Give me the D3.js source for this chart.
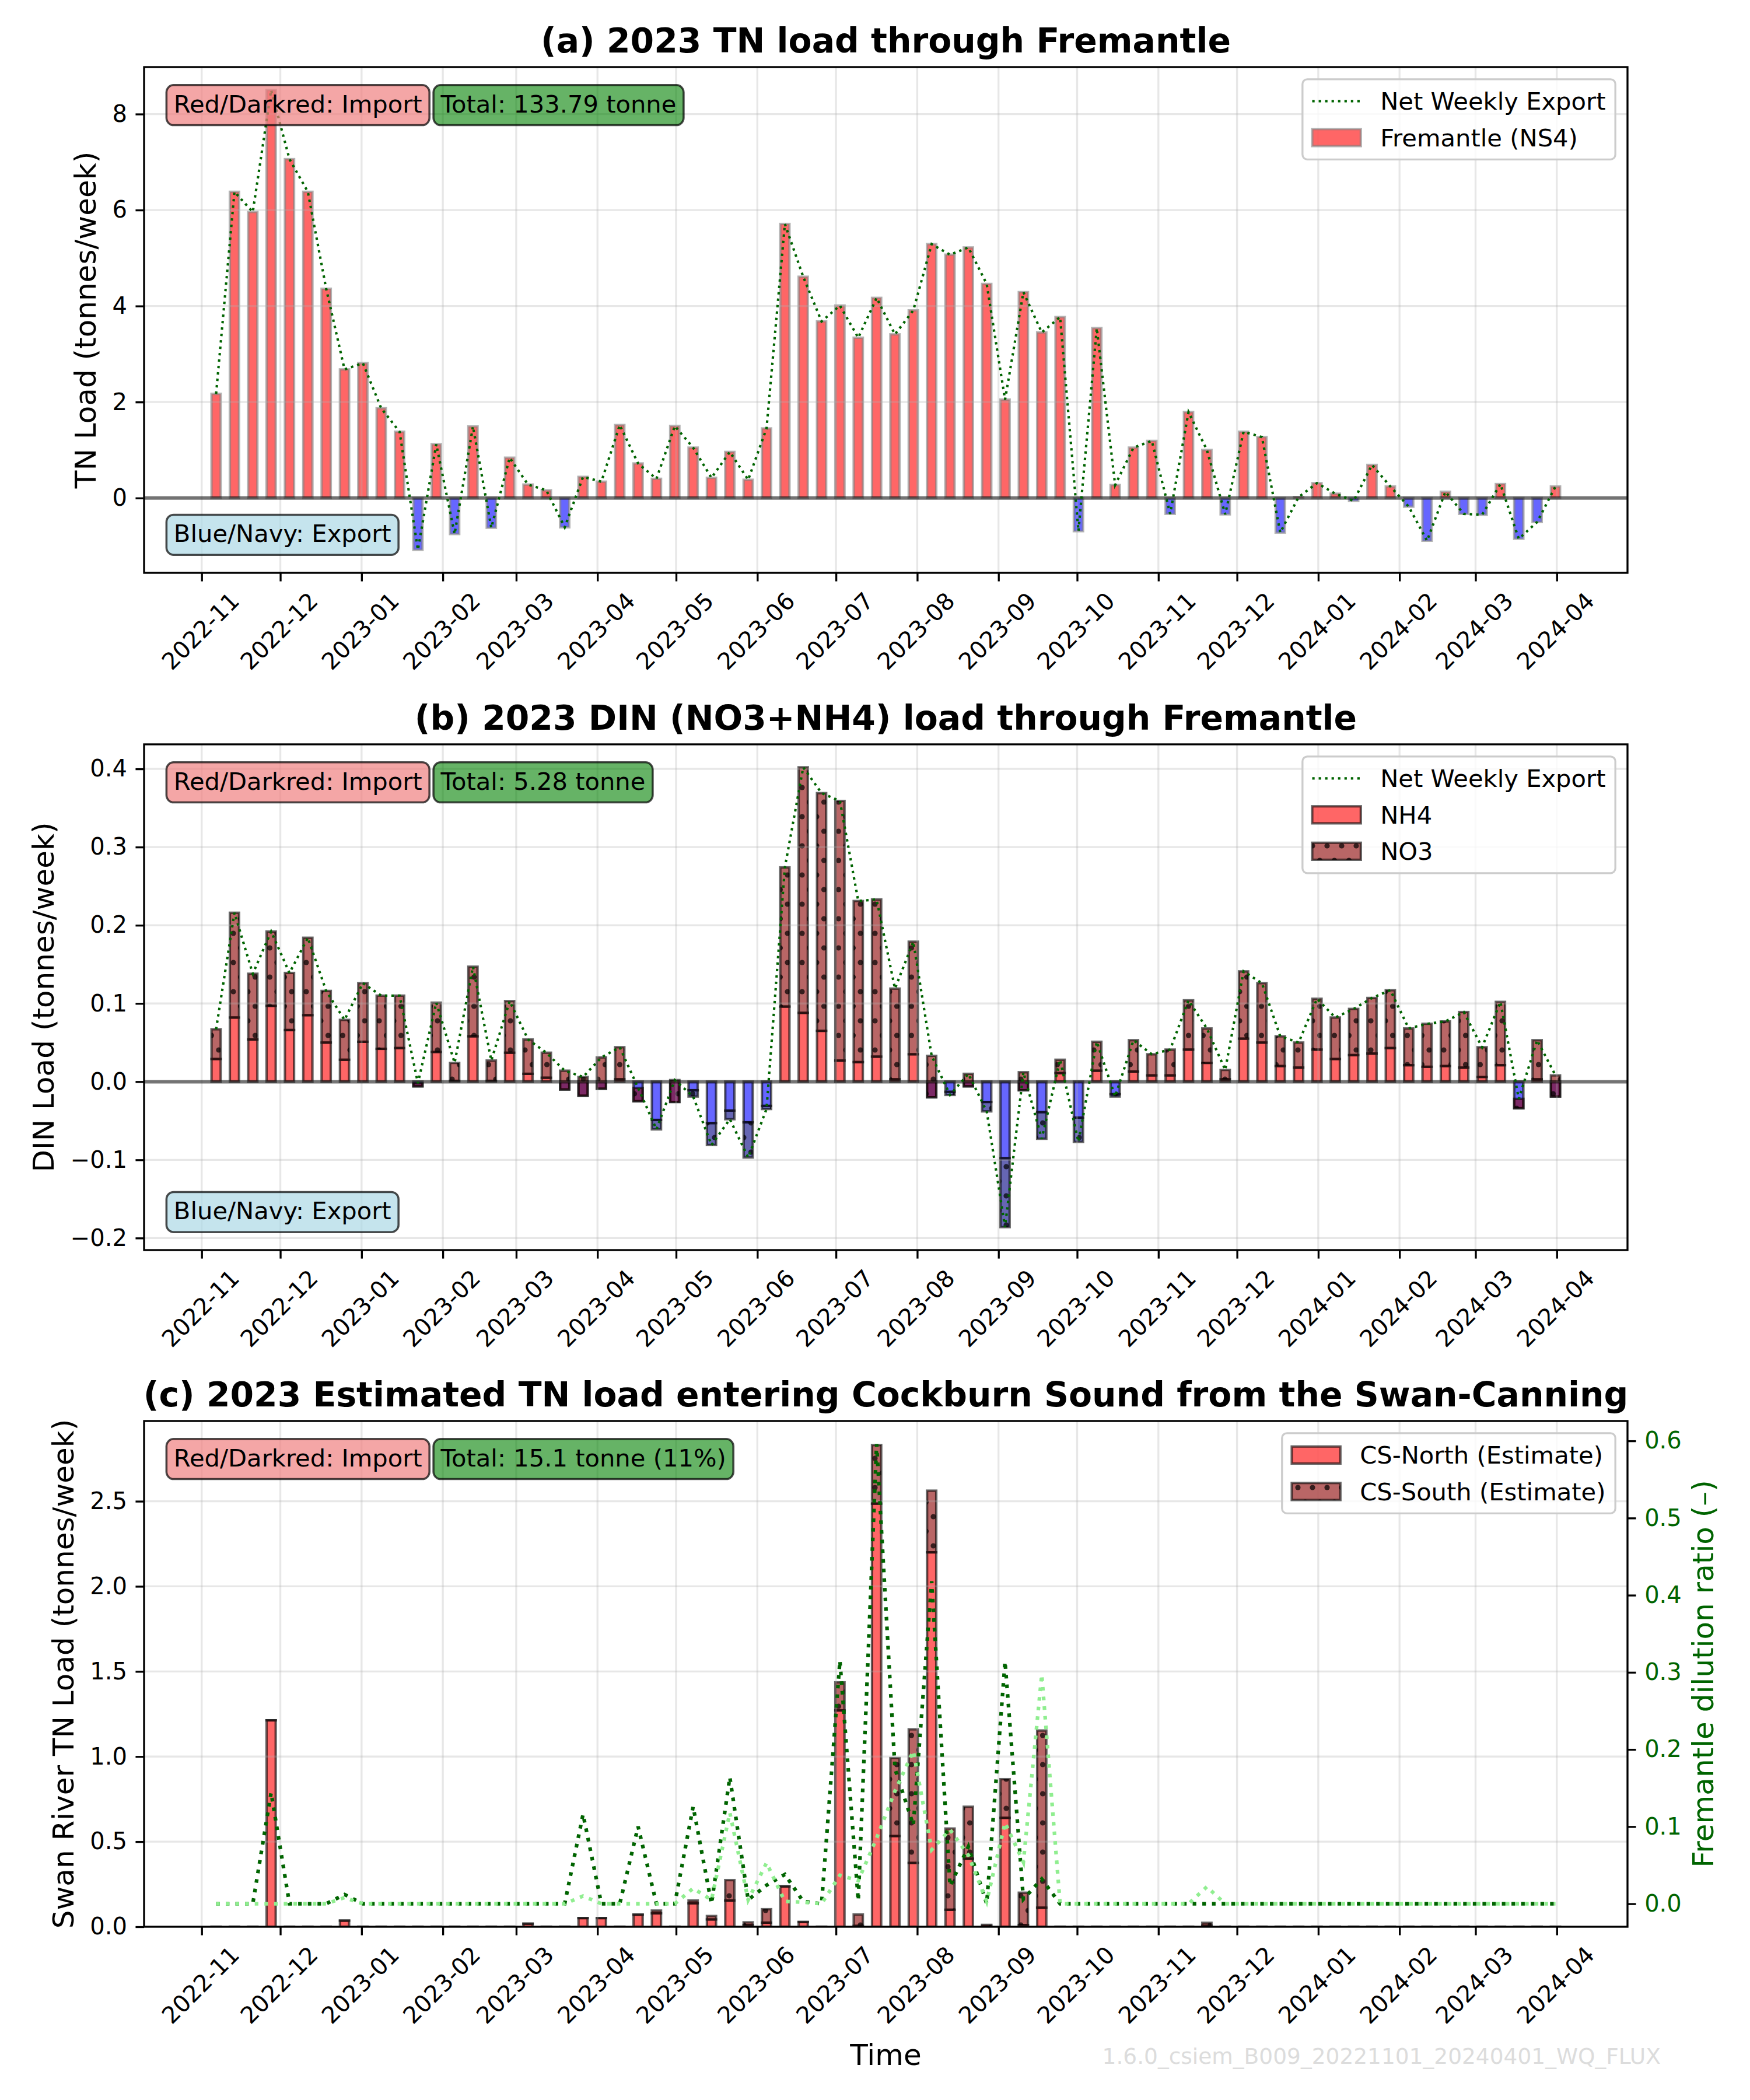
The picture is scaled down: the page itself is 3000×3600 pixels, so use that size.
<!DOCTYPE html>
<html>
<head>
<meta charset="utf-8">
<script src="https://cdn.jsdelivr.net/npm/d3@7"></script>
<style>
  body { margin: 0; background: #fff; }
  svg { display: block; }
  text { font-family: "DejaVu Sans", sans-serif; }
</style>
</head>
<body>
<div id="chart"></div>
<script>
// weekly values, first week centred on 2022-11-06
var firstWeek = new Date(Date.UTC(2022, 10, 6, 12));

// (a) TN net weekly load through Fremantle (tonnes/week)
var tnNet = [2.17, 6.38, 5.96, 8.50, 7.06, 6.38, 4.36, 2.68, 2.81, 1.87,
  1.38, -1.08, 1.12, -0.75, 1.49, -0.62, 0.84, 0.28, 0.16, -0.61,
  0.44, 0.34, 1.52, 0.72, 0.40, 1.50, 1.05, 0.42, 0.96, 0.38,
  1.45, 5.71, 4.61, 3.68, 4.01, 3.34, 4.17, 3.41, 3.91, 5.29,
  5.07, 5.22, 4.46, 2.05, 4.29, 3.45, 3.77, -0.69, 3.54, 0.27,
  1.05, 1.19, -0.33, 1.79, 1.00, -0.34, 1.38, 1.27, -0.72, 0.02,
  0.31, 0.09, -0.06, 0.69, 0.24, -0.18, -0.89, 0.13, -0.33, -0.35,
  0.29, -0.85, -0.50, 0.24];

// (b) DIN components (tonnes/week)
var dinNH4 = [0.029, 0.082, 0.054, 0.097, 0.066, 0.085, 0.050, 0.028, 0.051, 0.042,
  0.043, -0.006, 0.038, 0.001, 0.058, 0.001, 0.037, 0.010, 0.005, -0.010,
  -0.018, -0.009, 0.003, -0.025, -0.049, -0.026, -0.011, -0.053, -0.037, -0.052,
  -0.031, 0.096, 0.088, 0.065, 0.027, 0.025, 0.032, 0.003, 0.035, -0.020,
  -0.013, -0.006, -0.026, -0.098, -0.011, -0.039, 0.011, -0.046, 0.014, -0.016,
  0.013, 0.008, 0.008, 0.041, 0.024, 0.003, 0.055, 0.050, 0.020, 0.018,
  0.041, 0.029, 0.034, 0.036, 0.043, 0.021, 0.019, 0.020, 0.018, 0.006,
  0.021, -0.034, 0.003, -0.019];
var dinNO3 = [0.038, 0.134, 0.084, 0.095, 0.073, 0.099, 0.066, 0.051, 0.075, 0.068,
  0.067, 0.004, 0.063, 0.023, 0.089, 0.026, 0.066, 0.044, 0.032, 0.024,
  0.024, 0.040, 0.041, 0.017, -0.012, 0.028, -0.008, -0.028, -0.011, -0.045,
  -0.004, 0.178, 0.314, 0.304, 0.332, 0.206, 0.201, 0.116, 0.144, 0.053,
  -0.004, 0.016, -0.012, -0.088, 0.023, -0.034, 0.017, -0.031, 0.037, -0.003,
  0.040, 0.027, 0.033, 0.063, 0.044, 0.012, 0.086, 0.076, 0.038, 0.032,
  0.065, 0.053, 0.059, 0.071, 0.074, 0.047, 0.055, 0.057, 0.071, 0.038,
  0.081, 0.012, 0.050, 0.027];

// (c) Swan-Canning TN into Cockburn Sound (tonnes/week)
var csNorth = [0, 0, 0, 1.213, 0, 0, 0, 0.036, 0, 0,
  0, 0, 0, 0, 0, 0, 0, 0.018, 0, 0,
  0.051, 0.051, 0, 0.071, 0.079, 0, 0.138, 0.043, 0.154, 0.010,
  0.024, 0.237, 0.028, 0, 1.271, 0.005, 2.486, 0.533, 0.375, 2.200,
  0.100, 0.400, 0.005, 0.640, 0.010, 0.112, 0, 0, 0, 0,
  0, 0, 0, 0, 0.006, 0, 0, 0, 0, 0,
  0, 0, 0, 0, 0, 0, 0, 0, 0, 0,
  0, 0, 0, 0];
var csSouth = [0, 0, 0, 0, 0, 0, 0, 0, 0, 0,
  0, 0, 0, 0, 0, 0, 0, 0, 0, 0,
  0, 0, 0, 0, 0.016, 0, 0.016, 0.020, 0.120, 0.016,
  0.079, 0, 0, 0, 0.165, 0.067, 0.344, 0.458, 0.785, 0.362,
  0.477, 0.305, 0.006, 0.227, 0.190, 1.041, 0, 0, 0, 0,
  0, 0, 0, 0, 0.017, 0, 0, 0, 0, 0,
  0, 0, 0, 0, 0, 0, 0, 0, 0, 0,
  0, 0, 0, 0];

// (c) Fremantle dilution ratios (-)
var ratioNorth = [0, 0, 0, 0.144, 0, 0, 0, 0.012, 0, 0,
  0, 0, 0, 0, 0, 0, 0, 0, 0, 0,
  0.116, 0, 0, 0.100, 0, 0, 0.126, 0, 0.164, 0.005,
  0.024, 0.038, 0.003, 0, 0.315, 0.004, 0.596, 0.175, 0.102, 0.418,
  0.023, 0.074, 0, 0.314, 0.006, 0.032, 0, 0, 0, 0,
  0, 0, 0, 0, 0, 0, 0, 0, 0, 0,
  0, 0, 0, 0, 0, 0, 0, 0, 0, 0,
  0, 0, 0, 0];
var ratioSouth = [0, 0, 0, 0, 0, 0, 0, 0.008, 0, 0,
  0, 0, 0, 0, 0, 0, 0, 0, 0, 0,
  0.010, 0, 0, 0, 0, 0, 0.020, 0.005, 0.118, 0.005,
  0.053, 0.003, 0.002, 0, 0.037, 0.030, 0.085, 0.146, 0.198, 0.070,
  0.096, 0.063, 0.003, 0.105, 0.054, 0.297, 0, 0, 0, 0,
  0, 0, 0, 0, 0.022, 0, 0, 0, 0, 0,
  0, 0, 0, 0, 0, 0, 0, 0, 0, 0,
  0, 0, 0, 0];

var titles = ['(a) 2023 TN load through Fremantle',
  '(b) 2023 DIN (NO3+NH4) load through Fremantle',
  '(c) 2023 Estimated TN load entering Cockburn Sound from the Swan-Canning'];
var yLabels = ['TN Load (tonnes/week)', 'DIN Load (tonnes/week)', 'Swan River TN Load (tonnes/week)'];
var totals = ['Total: 133.79 tonne', 'Total: 5.28 tonne', 'Total: 15.1 tonne (11%)'];
var rightLabel = 'Fremantle dilution ratio (\u2013)';
var footer = '1.6.0_csiem_B009_20221101_20240401_WQ_FLUX';

// ---- layout (figure is 10x12 in at 300 dpi) ----
var W = 3000, H = 3600;
var PT = 300 / 72;
var left = 247, right = 2790, axH = 867;
var tops = [115, 1276, 2436];
var TICK = 3.5 * PT;
var tickFs = 40, labelFs = 50, titleFs = 14 * PT, boxFs = 10 * PT, legendFs = 10 * PT;
var barDays = 3.5, dayMs = 864e5;

var weeks = tnNet.map(function(d, i) { return d3.utcDay.offset(firstWeek, 7 * i); });

var svg = d3.select('#chart').append('svg')
            .attr('width', W)
            .attr('height', H);
svg.append('rect').attr('width', W).attr('height', H).attr('fill', 'white');

var defs = svg.append('defs');
var dots = defs.append('pattern')
               .attr('id', 'dots')
               .attr('patternUnits', 'userSpaceOnUse')
               .attr('width', 25)
               .attr('height', 50);
[[0, 0], [25, 0], [12.5, 25], [0, 50], [25, 50]].forEach(function(c) {
  dots.append('circle').attr('cx', c[0]).attr('cy', c[1]).attr('r', 4.6)
      .attr('fill', 'black').attr('fill-opacity', 0.7);
});

// x scale shared by the three panels, matplotlib-like 5% margins
var half = barDays / 2 * dayMs;
var xExt = [+weeks[0] - half, +weeks[weeks.length - 1] + half];
var xPad = (xExt[1] - xExt[0]) * 0.05;
var x = d3.scaleUtc()
          .domain([new Date(xExt[0] - xPad), new Date(xExt[1] + xPad)])
          .range([left, right]);
var monthTicks = x.ticks(d3.utcMonth.every(1));

function padded(lo, hi) {
  var m = (hi - lo) * 0.05;
  return [lo - m, hi + m];
}

function noNegZero(fmt) {
  return function(d) { return fmt(Math.abs(d) < 1e-12 ? 0 : d); };
}

function makePanel(i, yDomain) {
  var top = tops[i], bottom = top + axH;
  var y = d3.scaleLinear().domain(yDomain).range([bottom, top]);
  defs.append('clipPath').attr('id', 'clip' + i)
      .append('rect').attr('x', left).attr('y', top).attr('width', right - left).attr('height', axH);
  var g = svg.append('g');
  var plot = g.append('g').attr('clip-path', 'url(#clip' + i + ')');
  return {i: i, top: top, bottom: bottom, y: y, g: g, plot: plot,
          bars: plot.append('g'), grid: plot.append('g'), lines: plot.append('g')};
}

function styleAxis(ax, color) {
  ax.select('.domain').remove();
  ax.attr('font-size', tickFs).attr('font-family', '"DejaVu Sans", sans-serif');
  ax.selectAll('line').attr('stroke', 'black').attr('stroke-width', 0.8 * PT);
  ax.selectAll('text').attr('fill', color || 'black');
}

function drawAxes(p, yTicks, yFmt) {
  // grid
  p.grid.selectAll('line.gy').data(yTicks).enter().append('line')
        .attr('x1', left).attr('x2', right)
        .attr('y1', function(d) { return p.y(d); })
        .attr('y2', function(d) { return p.y(d); })
        .attr('stroke', '#b0b0b0').attr('stroke-opacity', 0.3).attr('stroke-width', 0.8 * PT);
  p.grid.selectAll('line.gx').data(monthTicks).enter().append('line')
        .attr('y1', p.top).attr('y2', p.bottom)
        .attr('x1', function(d) { return x(d); })
        .attr('x2', function(d) { return x(d); })
        .attr('stroke', '#b0b0b0').attr('stroke-opacity', 0.3).attr('stroke-width', 0.8 * PT);

  var xa = p.g.append('g')
              .attr('transform', 'translate(0,' + p.bottom + ')')
              .call(d3.axisBottom(x).tickValues(monthTicks)
                      .tickFormat(d3.utcFormat('%Y-%m'))
                      .tickSize(TICK).tickSizeOuter(0));
  styleAxis(xa);
  xa.selectAll('text')
    .attr('y', null)
    .attr('dy', '0.26em')
    .attr('transform', function() {
      var L = this.getComputedTextLength();
      var off = 2 * TICK + (L + tickFs) / (2 * Math.SQRT2);
      return 'translate(0,' + off + ') rotate(-45)';
    });

  var ya = p.g.append('g')
              .attr('transform', 'translate(' + left + ',0)')
              .call(d3.axisLeft(p.y).tickValues(yTicks).tickFormat(noNegZero(yFmt))
                      .tickSize(TICK).tickPadding(TICK).tickSizeOuter(0));
  styleAxis(ya);

  p.g.append('rect')
     .attr('x', left).attr('y', p.top).attr('width', right - left).attr('height', axH)
     .attr('fill', 'none').attr('stroke', 'black').attr('stroke-width', 0.8 * PT);

  // title
  p.g.append('text')
     .attr('x', (left + right) / 2).attr('y', p.top - 6 * PT)
     .attr('text-anchor', 'middle').attr('font-size', titleFs).attr('font-weight', 'bold')
     .text(titles[p.i]);

  // y label next to the widest tick label
  var minX = d3.min(ya.selectAll('text').nodes(), function(n) { return n.getBBox().x; });
  var lx = left + minX - 4 * PT - 0.236 * labelFs;
  p.g.append('text')
     .attr('transform', 'translate(' + lx + ',' + (p.top + axH / 2) + ') rotate(-90)')
     .attr('text-anchor', 'middle').attr('font-size', labelFs)
     .text(yLabels[p.i]);
}

function drawSegments(p, segs, y, strokeColor) {
  var xl = function(d) { return x(new Date(+d.date - half)); };
  var xw = function(d) { return x(new Date(+d.date + half)) - xl(d); };
  var yt = function(d) { return y(Math.max(d.lo, d.hi)); };
  var hh = function(d) { return Math.max(0.01, Math.abs(y(d.lo) - y(d.hi))); };
  p.bars.selectAll(null).data(segs).enter().append('rect')
        .attr('x', xl).attr('width', xw).attr('y', yt).attr('height', hh)
        .attr('fill', function(d) { return d.color; }).attr('fill-opacity', 0.6)
        .attr('stroke', strokeColor).attr('stroke-opacity', 0.6).attr('stroke-width', PT);
  p.bars.selectAll(null).data(segs.filter(function(d) { return d.hatch; })).enter().append('rect')
        .attr('x', xl).attr('width', xw).attr('y', yt).attr('height', hh)
        .attr('fill', 'url(#dots)');
}

function drawLine(p, values, y, color, lw) {
  var line = d3.line()
               .x(function(d, i) { return x(weeks[i]); })
               .y(function(d) { return y(d); })
               .curve(d3.curveLinear);
  p.lines.append('path')
         .attr('d', line(values))
         .attr('fill', 'none')
         .attr('stroke', color)
         .attr('stroke-width', lw)
         .attr('stroke-dasharray', lw + ',' + (1.65 * lw));
}

function zeroLine(p) {
  p.lines.append('line')
         .attr('x1', left).attr('x2', right)
         .attr('y1', p.y(0)).attr('y2', p.y(0))
         .attr('stroke', 'black').attr('stroke-opacity', 0.5).attr('stroke-width', 1.5 * PT);
}

function textBox(p, xFrac, yFrac, vAlign, label, fill, alpha) {
  var pad = 0.3 * boxFs, th = 1.05 * boxFs;
  var tx = left + xFrac * (right - left);
  var yRef = p.top + (1 - yFrac) * axH;
  var topY = vAlign === 'top' ? yRef : yRef - th;
  var r = p.g.append('rect');
  var t = p.g.append('text')
             .attr('x', tx).attr('y', topY + 0.82 * boxFs)
             .attr('font-size', boxFs).text(label);
  var w = t.node().getComputedTextLength();
  r.attr('x', tx - pad).attr('y', topY - pad)
   .attr('width', w + 2 * pad).attr('height', th + 2 * pad)
   .attr('rx', pad).attr('ry', pad)
   .attr('fill', fill).attr('fill-opacity', alpha)
   .attr('stroke', 'black').attr('stroke-opacity', 0.7).attr('stroke-width', 0.85 * PT);
}

function legend(p, items) {
  var fs = legendFs, bp = 0.4 * fs, hl = 2 * fs, htp = 0.8 * fs, rh = 1.0 * fs, ls = 0.5 * fs;
  var lg = p.g.append('g');
  var frame = lg.append('rect');
  var texts = lg.selectAll('text').data(items).enter().append('text')
                .attr('font-size', fs).text(function(d) { return d.label; });
  var maxW = d3.max(texts.nodes(), function(n) { return n.getComputedTextLength(); });
  var w = 2 * bp + hl + htp + maxW;
  var h = 2 * bp + items.length * rh + (items.length - 1) * ls;
  var bx = right - 0.5 * fs - w, by = p.top + 0.5 * fs;
  frame.attr('x', bx).attr('y', by).attr('width', w).attr('height', h)
       .attr('rx', 0.2 * fs).attr('ry', 0.2 * fs)
       .attr('fill', 'white').attr('fill-opacity', 0.8)
       .attr('stroke', '#cccccc').attr('stroke-width', 0.8 * PT);
  var cy = function(i) { return by + bp + i * (rh + ls) + rh / 2; };
  texts.attr('x', bx + bp + hl + htp).attr('y', function(d, i) { return cy(i) + 0.36 * fs; });
  items.forEach(function(it, i) {
    var hx = bx + bp, c = cy(i);
    if (it.type === 'line') {
      lg.append('line').attr('x1', hx).attr('x2', hx + hl).attr('y1', c).attr('y2', c)
        .attr('stroke', it.color).attr('stroke-width', it.lw)
        .attr('stroke-dasharray', it.lw + ',' + (1.65 * it.lw));
    } else {
      lg.append('rect').attr('x', hx).attr('y', c - 0.35 * fs).attr('width', hl).attr('height', 0.7 * fs)
        .attr('fill', it.color).attr('fill-opacity', 0.6)
        .attr('stroke', it.edge).attr('stroke-opacity', 0.6).attr('stroke-width', PT);
      if (it.hatch) {
        lg.append('rect').attr('x', hx).attr('y', c - 0.35 * fs).attr('width', hl).attr('height', 0.7 * fs)
          .attr('fill', 'url(#dots)');
      }
    }
  });
}

// ---------------- (a) ----------------
var pa = makePanel(0, padded(Math.min(0, d3.min(tnNet)), d3.max(tnNet)));
drawSegments(pa, tnNet.map(function(v, i) {
  return {date: weeks[i], lo: 0, hi: v, color: v >= 0 ? 'red' : 'blue'};
}), pa.y, 'gray');
drawAxes(pa, pa.y.ticks(5), d3.format('d'));
zeroLine(pa);
drawLine(pa, tnNet, pa.y, 'darkgreen', PT);
textBox(pa, 0.02, 0.95, 'top', 'Red/Darkred: Import', 'lightcoral', 0.7);
textBox(pa, 0.2, 0.95, 'top', totals[0], 'green', 0.6);
textBox(pa, 0.02, 0.05, 'bottom', 'Blue/Navy: Export', 'lightblue', 0.7);
legend(pa, [
  {type: 'line', label: 'Net Weekly Export', color: 'darkgreen', lw: PT},
  {type: 'patch', label: 'Fremantle (NS4)', color: 'red', edge: 'gray'}
]);

// ---------------- (b) ----------------
var dinTotal = dinNH4.map(function(v, i) { return v + dinNO3[i]; });
var pb = makePanel(1, padded(Math.min(0, d3.min(dinNH4), d3.min(dinTotal)),
                             Math.max(d3.max(dinNH4), d3.max(dinTotal))));
var segNH4 = dinNH4.map(function(v, i) {
  return {date: weeks[i], lo: 0, hi: v, color: v >= 0 ? 'red' : 'blue'};
});
var segNO3 = dinNO3.map(function(v, i) {
  return {date: weeks[i], lo: dinNH4[i], hi: dinTotal[i], color: v >= 0 ? 'darkred' : 'navy', hatch: true};
});
drawSegments(pb, segNH4, pb.y, 'black');
drawSegments(pb, segNO3, pb.y, 'black');
drawAxes(pb, pb.y.ticks(6), d3.format('.1f'));
zeroLine(pb);
drawLine(pb, dinTotal, pb.y, 'darkgreen', PT);
textBox(pb, 0.02, 0.95, 'top', 'Red/Darkred: Import', 'lightcoral', 0.7);
textBox(pb, 0.2, 0.95, 'top', totals[1], 'green', 0.6);
textBox(pb, 0.02, 0.05, 'bottom', 'Blue/Navy: Export', 'lightblue', 0.7);
legend(pb, [
  {type: 'line', label: 'Net Weekly Export', color: 'darkgreen', lw: PT},
  {type: 'patch', label: 'NH4', color: 'red', edge: 'black'},
  {type: 'patch', label: 'NO3', color: 'darkred', edge: 'black', hatch: true}
]);

// ---------------- (c) ----------------
var csTotal = csNorth.map(function(v, i) { return v + csSouth[i]; });
var pc = makePanel(2, [0, d3.max(csTotal) * 1.05]);
drawSegments(pc, csNorth.map(function(v, i) {
  return {date: weeks[i], lo: 0, hi: v, color: 'red'};
}), pc.y, 'black');
drawSegments(pc, csSouth.map(function(v, i) {
  return {date: weeks[i], lo: csNorth[i], hi: csTotal[i], color: 'darkred', hatch: true};
}), pc.y, 'black');
drawAxes(pc, pc.y.ticks(6), d3.format('.1f'));
textBox(pc, 0.02, 0.95, 'top', 'Red/Darkred: Import', 'lightcoral', 0.7);
textBox(pc, 0.2, 0.95, 'top', totals[2], 'green', 0.6);
legend(pc, [
  {type: 'patch', label: 'CS-North (Estimate)', color: 'red', edge: 'black'},
  {type: 'patch', label: 'CS-South (Estimate)', color: 'darkred', edge: 'black', hatch: true}
]);

// twin axis with dilution ratios
var y2 = d3.scaleLinear()
           .domain(padded(Math.min(0, d3.min(ratioNorth), d3.min(ratioSouth)),
                          Math.max(d3.max(ratioNorth), d3.max(ratioSouth))))
           .range([pc.bottom, pc.top]);
var twin = pc.g.append('g').attr('clip-path', 'url(#clip2)');
var pTwin = {lines: twin};
drawLine(pTwin, ratioNorth, y2, 'darkgreen', 1.5 * PT);
drawLine(pTwin, ratioSouth, y2, 'lightgreen', 1.5 * PT);
var ra = pc.g.append('g')
             .attr('transform', 'translate(' + right + ',0)')
             .call(d3.axisRight(y2).tickValues(y2.ticks(6)).tickFormat(noNegZero(d3.format('.1f')))
                     .tickSize(TICK).tickPadding(TICK).tickSizeOuter(0));
styleAxis(ra, 'darkgreen');
var maxX = d3.max(ra.selectAll('text').nodes(), function(n) { var b = n.getBBox(); return b.x + b.width; });
pc.g.append('text')
    .attr('transform', 'translate(' + (right + maxX + 4 * PT + 0.76 * labelFs) + ',' + (pc.top + axH / 2) + ') rotate(-90)')
    .attr('text-anchor', 'middle').attr('font-size', labelFs).attr('fill', 'darkgreen')
    .text(rightLabel);

// x label and run tag
svg.append('text')
   .attr('x', (left + right) / 2).attr('y', 3540)
   .attr('text-anchor', 'middle').attr('font-size', labelFs)
   .text('Time');
svg.append('text')
   .attr('x', 2847).attr('y', 3538)
   .attr('text-anchor', 'end').attr('font-size', 9 * PT).attr('fill', '#dcdcdc')
   .text(footer);
</script>
</body>
</html>
